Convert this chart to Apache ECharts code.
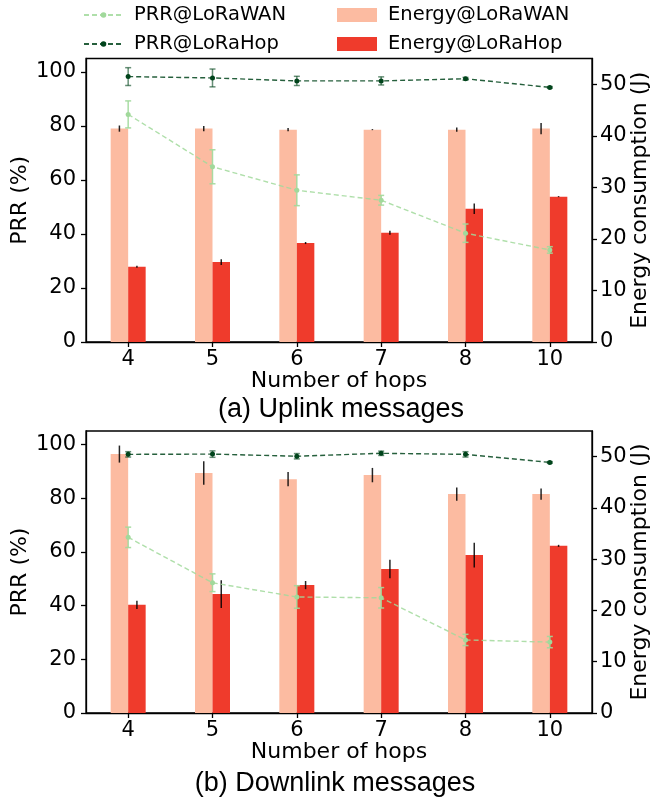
<!DOCTYPE html>
<html>
<head>
<meta charset="utf-8">
<script src="https://cdn.jsdelivr.net/npm/echarts@6/dist/echarts.min.js"></script>
<style>html,body{margin:0;padding:0;background:#fff}#c{width:651px;height:802px}</style>
</head>
<body>
<div id="c"></div>
<script>
// ---- data ----
const categories = ['4', '5', '6', '7', '8', '10'];
const prrTicks = [0, 20, 40, 60, 80, 100];
const energyTicks = [0, 10, 20, 30, 40, 50];

// (a) Uplink
const upPrrWan = [84.3, 64.9, 56.2, 52.5, 40.3, 34.1];
const upPrrWanErr = [5.0, 6.3, 5.7, 1.8, 3.4, 1.2];
const upPrrHop = [98.3, 97.8, 96.7, 96.7, 97.5, 94.3];
const upPrrHopErr = [3.3, 3.3, 1.7, 1.5, 0.5, 0.3];
const upEnWan = [41.4, 41.4, 41.2, 41.2, 41.2, 41.4];
const upEnWanErr = [0.6, 0.5, 0.3, 0.1, 0.4, 1.1];
const upEnHop = [14.6, 15.5, 19.2, 21.2, 25.85, 28.2];
const upEnHopErr = [0.2, 0.55, 0.2, 0.4, 1.0, 0.1];

// (b) Downlink
const dnPrrWan = [65.4, 48.5, 43.2, 42.9, 27.2, 26.4];
const dnPrrWanErr = [3.8, 3.3, 4.2, 3.8, 2.1, 2.1];
const dnPrrHop = [96.3, 96.4, 95.6, 96.7, 96.3, 93.3];
const dnPrrHopErr = [1.0, 1.2, 1.0, 0.8, 1.0, 0.3];
const dnEnWan = [50.5, 46.8, 45.6, 46.4, 42.7, 42.7];
const dnEnWanErr = [1.66, 2.3, 1.4, 1.4, 1.3, 1.1];
const dnEnHop = [21.1, 23.2, 24.95, 28.1, 30.8, 32.6];
const dnEnHopErr = [0.8, 2.7, 0.8, 1.8, 2.4, 0.2];

// ---- styles ----
const FONT = 'DejaVu Sans';
const C_WAN_LINE = '#a1d99b';
const C_HOP_LINE = '#00441b';
const C_WAN_BAR = '#fcbba1';
const C_HOP_BAR = '#ef3b2c';
const BAR_W = 17.5;

function errSeries(name, gi, yIdx, vals, errs, offset, color, cap, width, z) {
  return {
    type: 'custom', name: name, xAxisIndex: gi, yAxisIndex: gi * 2 + yIdx, z: z,
    silent: true,
    data: vals.map((v, i) => [i, v - errs[i], v + errs[i]]),
    encode: { x: 0, y: [1, 2] },
    renderItem: function (params, api) {
      const lo = api.coord([api.value(0), api.value(1)]);
      const hi = api.coord([api.value(0), api.value(2)]);
      const x = lo[0] + offset;
      const st = { stroke: color, lineWidth: width };
      const ch = [{ type: 'line', shape: { x1: x, y1: lo[1], x2: x, y2: hi[1] }, style: st }];
      if (cap > 0) {
        ch.push({ type: 'line', shape: { x1: x - cap, y1: lo[1], x2: x + cap, y2: lo[1] }, style: st });
        ch.push({ type: 'line', shape: { x1: x - cap, y1: hi[1], x2: x + cap, y2: hi[1] }, style: st });
      }
      return { type: 'group', children: ch };
    }
  };
}

function panelSeries(gi, prrWan, prrWanErr, prrHop, prrHopErr, enWan, enWanErr, enHop, enHopErr) {
  const xi = gi, yl = gi * 2, yr = gi * 2 + 1;
  return [
    { type: 'bar', name: 'Energy@LoRaWAN', xAxisIndex: xi, yAxisIndex: yr, data: enWan,
      barWidth: BAR_W, barGap: '0%', itemStyle: { color: C_WAN_BAR }, z: 2 },
    { type: 'bar', name: 'Energy@LoRaHop', xAxisIndex: xi, yAxisIndex: yr, data: enHop,
      barWidth: BAR_W, barGap: '0%', itemStyle: { color: C_HOP_BAR }, z: 2 },
    errSeries('errEnWan' + gi, gi, 1, enWan, enWanErr, -BAR_W / 2, 'rgba(0,0,0,0.85)', 0, 1.5, 3),
    errSeries('errEnHop' + gi, gi, 1, enHop, enHopErr, BAR_W / 2, 'rgba(0,0,0,0.85)', 0, 1.5, 3),
    { type: 'line', name: 'PRR@LoRaWAN', xAxisIndex: xi, yAxisIndex: yl, data: prrWan,
      symbol: 'circle', symbolSize: 5, showSymbol: true,
      lineStyle: { color: C_WAN_LINE, width: 1.4, type: [5, 3], opacity: 0.85 },
      itemStyle: { color: C_WAN_LINE }, z: 5 },
    errSeries('errPrrWan' + gi, gi, 0, prrWan, prrWanErr, 0, 'rgba(161,217,155,0.9)', 3, 1.5, 4),
    { type: 'line', name: 'PRR@LoRaHop', xAxisIndex: xi, yAxisIndex: yl, data: prrHop,
      symbol: 'circle', symbolSize: 5, showSymbol: true,
      lineStyle: { color: C_HOP_LINE, width: 1.4, type: [5, 3], opacity: 0.85 },
      itemStyle: { color: C_HOP_LINE }, z: 5 },
    errSeries('errPrrHop' + gi, gi, 0, prrHop, prrHopErr, 0, 'rgba(0,68,27,0.6)', 3, 1.5, 4)
  ];
}

const tickLabel = { color: '#000', fontFamily: FONT, fontSize: 21 };
const nameStyle = { color: '#000', fontFamily: FONT, fontSize: 22 };
const axLine = { show: true, lineStyle: { color: '#000', width: 1.3 } };
const axTick = { show: true, length: 5, lineStyle: { color: '#000', width: 1.3 } };

const grids = [
  { left: 86, right: 59, top: 58.5, height: 283.5 },
  { left: 86, right: 59, top: 431, height: 282 }
].map(g => Object.assign(g, { show: true, borderColor: '#000', borderWidth: 1.3,
  backgroundColor: 'transparent', containLabel: false, outerBoundsMode: 'none' }));

const xAxes = [0, 1].map(gi => ({
  type: 'category', gridIndex: gi, data: categories, boundaryGap: true,
  axisLine: axLine, axisTick: Object.assign({ alignWithLabel: true }, axTick),
  axisLabel: Object.assign({ margin: 7 }, tickLabel),
  name: 'Number of hops', nameLocation: 'middle', nameGap: 28, nameTextStyle: nameStyle,
  nameMoveOverlap: false,
  splitLine: { show: false }
}));

const yAxes = [];
[0, 1].forEach(gi => {
  yAxes.push({
    type: 'value', gridIndex: gi, position: 'left', min: 0, max: 105,
    axisLine: axLine,
    axisTick: Object.assign({ customValues: prrTicks }, axTick),
    axisLabel: Object.assign({ margin: 10, customValues: prrTicks }, tickLabel),
    splitLine: { show: false },
    name: 'PRR (%)', nameLocation: 'middle', nameGap: 55, nameTextStyle: nameStyle,
    nameMoveOverlap: false
  });
  yAxes.push({
    type: 'value', gridIndex: gi, position: 'right', min: 0, max: 55,
    axisLine: axLine,
    axisTick: Object.assign({ customValues: energyTicks }, axTick),
    axisLabel: Object.assign({ margin: 8, customValues: energyTicks }, tickLabel),
    splitLine: { show: false },
    name: 'Energy consumption (J)', nameLocation: 'middle', nameGap: 37, nameTextStyle: nameStyle,
    nameMoveOverlap: false
  });
});

const legendText = { color: '#000', fontFamily: FONT, fontSize: 19.5, lineHeight: 20, padding: [0, 0, 0, 6] };

const option = {
  animation: false,
  backgroundColor: '#fff',
  grid: grids,
  xAxis: xAxes,
  yAxis: yAxes,
  legend: [
    { data: ['PRR@LoRaWAN', 'PRR@LoRaHop'], orient: 'vertical', left: 78, top: 0,
      itemWidth: 39, itemHeight: 7, itemGap: 9, textStyle: legendText },
    { data: ['Energy@LoRaWAN', 'Energy@LoRaHop'], orient: 'vertical', left: 332, top: 0,
      icon: 'rect', itemWidth: 40, itemHeight: 14, itemGap: 9, textStyle: legendText }
  ],
  graphic: [
    { type: 'text', style: { text: '(a) Uplink messages', x: 341, y: 410,
      textAlign: 'center', textVerticalAlign: 'middle', fill: '#000', font: '27px "Liberation Sans"' } },
    { type: 'text', style: { text: '(b) Downlink messages', x: 335, y: 784,
      textAlign: 'center', textVerticalAlign: 'middle', fill: '#000', font: '27px "Liberation Sans"' } }
  ],
  series: [].concat(
    panelSeries(0, upPrrWan, upPrrWanErr, upPrrHop, upPrrHopErr, upEnWan, upEnWanErr, upEnHop, upEnHopErr),
    panelSeries(1, dnPrrWan, dnPrrWanErr, dnPrrHop, dnPrrHopErr, dnEnWan, dnEnWanErr, dnEnHop, dnEnHopErr)
  )
};

const chart = echarts.init(document.getElementById('c'), null, { renderer: 'canvas' });
chart.setOption(option);
</script>
</body>
</html>
